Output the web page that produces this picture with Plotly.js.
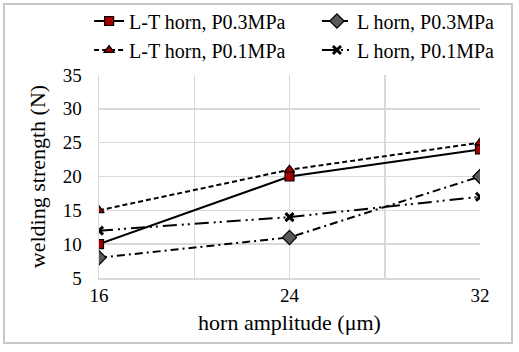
<!DOCTYPE html>
<html>
<head>
<meta charset="utf-8">
<script src="https://cdn.plot.ly/plotly-3.0.1.min.js"></script>
<style>html,body{margin:0;padding:0;background:#fff;}#chart{width:519px;height:352px;}</style>
</head>
<body>
<div id="chart"></div>
<script>
const amplitude = [16, 24, 32];
const ltHorn03 = [10, 20, 24];
const lHorn03 = [8, 11, 20];
const ltHorn01 = [15, 21, 25];
const lHorn01 = [12, 14, 17];
const seriesNames = ["L-T horn, P0.3MPa", "L horn, P0.3MPa", "L-T horn, P0.1MPa", "L horn, P0.1MPa"];
const xTickVals = [16, 20, 24, 28, 32];
const xTickText = ["16", "", "24", "", "32"];
const yTickVals = [5, 10, 15, 20, 25, 30, 35];

const font = "'Liberation Serif', 'Times New Roman', serif";

const traces = [
  {x: amplitude, y: ltHorn03, name: seriesNames[0], mode: "lines+markers", legend: "legend",
   line: {color: "#000", width: 2}, marker: {symbol: "square", size: 9, color: "#a50000", line: {color: "#000", width: 1.2}}},
  {x: amplitude, y: lHorn03, name: seriesNames[1], mode: "lines+markers", legend: "legend2",
   line: {color: "#000", width: 2, dash: "8px,4px,2px,4px"}, marker: {symbol: "diamond", size: 11, color: "#595959", line: {color: "#000", width: 1.2}}},
  {x: amplitude, y: ltHorn01, name: seriesNames[2], mode: "lines+markers", legend: "legend3",
   line: {color: "#000", width: 2, dash: "5px,3px"}, marker: {symbol: "triangle-up", size: 9, color: "#a50000", line: {color: "#000", width: 1.2}}},
  {x: amplitude, y: lHorn01, name: seriesNames[3], mode: "lines+markers", legend: "legend4",
   line: {color: "#000", width: 2, dash: "14px,5px,2px,4px,2px,5px"}, marker: {symbol: "x-thin-open", size: 8, color: "#000", line: {color: "#000", width: 3}}}
];

const legendCommon = {orientation: "h", xanchor: "left", yanchor: "middle",
  font: {family: font, size: 20, color: "#000"}, bgcolor: "rgba(0,0,0,0)", traceorder: "normal"};

const layout = {
  width: 519, height: 352,
  margin: {l: 99, r: 39, t: 75, b: 74, autoexpand: false},
  paper_bgcolor: "#fff", plot_bgcolor: "#fff",
  font: {family: font, color: "#000"},
  showlegend: true,
  legend: Object.assign({}, legendCommon, {x: -0.026, y: 1.266}),
  legend2: Object.assign({}, legendCommon, {x: 0.572, y: 1.266}),
  legend3: Object.assign({}, legendCommon, {x: -0.026, y: 1.123}),
  legend4: Object.assign({}, legendCommon, {x: 0.572, y: 1.123}),
  xaxis: {range: [16, 32], tickvals: xTickVals, ticktext: xTickText, showgrid: true, gridcolor: "#d9d9d9", gridwidth: 1.5,
    zeroline: false, showline: true, linecolor: "#d9d9d9", linewidth: 1.5, ticks: "", tickfont: {family: font, size: 19, color: "#000"},
    title: {text: "horn amplitude (μm)", font: {family: font, size: 22, color: "#000"}, standoff: 9}},
  yaxis: {range: [5, 35], tickvals: yTickVals, showgrid: true, gridcolor: "#d9d9d9", gridwidth: 1.5,
    zeroline: false, showline: true, linecolor: "#d9d9d9", linewidth: 1.5, ticks: "", ticklabelstandoff: 12, tickfont: {family: font, size: 19, color: "#000"},
    title: {text: "welding strength (N)", font: {family: font, size: 22, color: "#000"}, standoff: 11}},
  shapes: [
    {type: "rect", xref: "paper", yref: "paper", x0: -0.2493, x1: 1.084, y0: -0.320, y1: 1.350,
     line: {color: "#c8c8c8", width: 2}, fillcolor: "rgba(0,0,0,0)", layer: "below"}
  ]
};

Plotly.newPlot("chart", traces, layout, {displayModeBar: false, staticPlot: true});
</script>
</body>
</html>
